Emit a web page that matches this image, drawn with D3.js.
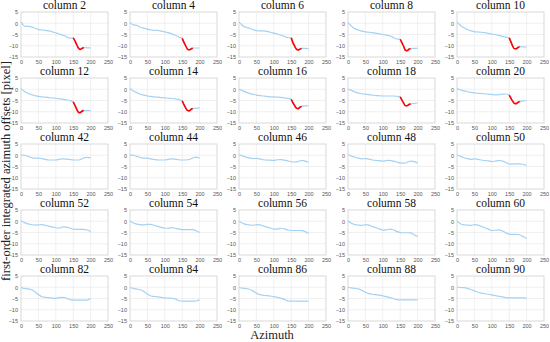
<!DOCTYPE html>
<html><head><meta charset="utf-8">
<script src="https://cdn.jsdelivr.net/npm/d3@7"></script>
<style>body{margin:0;background:#fff}svg{display:block}</style>
</head><body>
<svg id="c" width="550" height="342"></svg>
<script>
// panel titles
const columns = [2,4,6,8,10,12,14,16,18,20,42,44,46,48,50,52,54,56,58,60,82,84,86,88,90];
const xTicks = [0,50,100,150,200,250];
const yTicks = [5,0,-5,-10,-15];
// azimuth samples
const azA = [0,5,10,20,30,40,50,60,70,80,90,100,110,120,130,140,150,155,160,165,170,175,180,190,200];
const azB = [0,10,20,30,40,50,60,70,80,90,100,110,120,130,140,150,160,170,180,190,200];
// red segment range (rows 1-2)
const redRange = [150,180];
// offsets, rows 1-2 (sampled at azA)
const col2  = [0.5,-0.5,-1.3,-1.4,-1.6,-2.2,-2.8,-3.0,-3.2,-3.4,-3.8,-4.3,-4.8,-5.3,-5.9,-6.6,-6.5,-7.8,-9.5,-11.0,-11.6,-11.2,-10.8,-10.9,-10.9];
const col4  = [0.3,-0.3,-0.7,-1.0,-1.8,-2.2,-2.6,-3.0,-3.1,-3.2,-3.5,-3.8,-4.2,-4.7,-5.3,-6.1,-6.7,-8.5,-10.0,-11.5,-11.8,-11.5,-11.0,-11.0,-11.0];
const col6  = [0.5,-0.2,-1.0,-1.8,-2.2,-2.8,-3.3,-3.4,-3.4,-3.6,-4.0,-4.4,-4.8,-5.3,-5.8,-6.4,-6.5,-8.6,-10.2,-11.5,-11.9,-11.5,-11.2,-11.2,-11.3];
const col8  = [0.3,-0.5,-1.3,-2.5,-3.0,-3.5,-3.8,-4.0,-4.2,-4.4,-4.7,-5.0,-5.3,-5.6,-6.3,-7.0,-7.1,-8.7,-10.3,-12.0,-12.2,-11.5,-11.3,-11.2,-11.2];
const col10 = [0.5,-0.3,-1.0,-2.0,-2.8,-3.4,-3.8,-3.9,-4.0,-4.2,-4.5,-4.8,-5.0,-5.4,-5.8,-6.2,-6.5,-8.3,-10.2,-11.3,-11.3,-10.8,-10.4,-10.5,-10.6];
const col12 = [0.3,-0.4,-1.0,-1.8,-2.4,-2.8,-3.2,-3.4,-3.5,-3.7,-3.9,-4.0,-4.2,-4.4,-4.7,-5.0,-5.6,-7.2,-8.8,-10.2,-10.4,-9.8,-9.5,-9.5,-9.5];
const col14 = [0.3,-0.3,-0.8,-1.5,-2.2,-2.6,-3.0,-3.2,-3.4,-3.5,-3.7,-3.8,-4.0,-4.1,-4.3,-4.6,-5.1,-6.8,-8.3,-9.4,-9.6,-9.0,-8.6,-8.5,-8.3];
const col16 = [0.0,-0.3,-0.6,-1.3,-1.8,-2.2,-2.6,-2.8,-3.0,-3.2,-3.4,-3.4,-3.5,-3.6,-3.8,-4.1,-4.5,-6.0,-7.3,-8.4,-8.6,-8.0,-7.6,-7.4,-7.3];
const col18 = [0.1,-0.2,-0.5,-1.2,-1.7,-2.0,-2.2,-2.4,-2.6,-2.8,-2.9,-3.0,-3.0,-3.0,-3.0,-3.1,-3.4,-4.8,-6.2,-7.3,-7.3,-6.8,-6.5,-6.3,-6.0];
const col20 = [0.3,0.0,-0.3,-0.7,-1.1,-1.4,-1.6,-1.8,-1.9,-2.0,-2.2,-2.3,-2.5,-2.4,-2.2,-2.1,-2.6,-4.0,-5.3,-6.3,-6.4,-5.8,-5.4,-5.2,-5.0];
// offsets, rows 3-5 (sampled at azB)
const col42 = [0.1,0.0,-0.5,-1.0,-1.3,-1.3,-1.5,-1.8,-2.1,-2.1,-2.1,-1.8,-1.6,-1.7,-1.9,-2.1,-2.1,-2.0,-1.2,-0.9,-1.2];
const col44 = [0.2,0.0,-0.5,-1.0,-1.3,-1.3,-1.6,-1.9,-2.1,-2.1,-2.1,-1.8,-1.6,-1.8,-2.0,-2.1,-2.1,-1.9,-1.2,-0.8,-1.3];
const col46 = [0.2,-0.3,-0.8,-1.2,-1.5,-1.4,-1.6,-2.0,-2.2,-2.2,-2.3,-2.0,-1.9,-2.2,-2.5,-2.9,-3.0,-2.8,-2.3,-2.6,-3.1];
const col48 = [0.2,-0.4,-0.9,-1.3,-1.6,-1.5,-1.7,-2.1,-2.3,-2.4,-2.6,-2.4,-2.3,-2.6,-3.0,-3.4,-3.5,-3.2,-2.6,-2.8,-3.5];
const col50 = [0.2,-0.5,-1.1,-1.5,-1.8,-1.6,-1.8,-2.1,-2.4,-2.5,-2.8,-2.6,-2.3,-2.6,-3.1,-3.8,-3.9,-3.8,-3.8,-4.0,-4.5];
const col52 = [0.2,-0.6,-1.2,-1.5,-1.7,-1.6,-1.5,-1.8,-2.2,-2.5,-2.9,-3.0,-2.5,-2.6,-3.0,-3.5,-3.6,-3.6,-3.6,-3.9,-4.6];
const col54 = [0.1,-0.8,-1.3,-1.5,-1.6,-1.4,-1.4,-1.9,-2.3,-2.7,-3.1,-3.1,-2.8,-3.1,-3.5,-3.7,-3.7,-3.7,-3.7,-4.2,-5.0];
const col56 = [0.0,-0.9,-1.4,-1.6,-1.8,-1.5,-1.6,-2.1,-2.6,-3.0,-3.5,-3.5,-3.1,-3.4,-3.9,-4.1,-4.1,-4.1,-4.2,-4.6,-5.4];
const col58 = [0.1,-0.9,-1.5,-1.7,-1.8,-1.5,-1.7,-2.3,-2.9,-3.4,-3.9,-3.8,-3.5,-3.8,-4.5,-5.0,-5.1,-5.1,-5.2,-6.0,-6.8];
const col60 = [0.1,-1.1,-1.6,-1.7,-1.8,-1.5,-1.7,-2.3,-2.9,-3.5,-4.1,-4.0,-3.8,-4.3,-5.1,-5.7,-5.8,-5.8,-6.0,-6.8,-7.6];
const col82 = [-0.2,-0.5,-0.7,-1.1,-2.0,-3.2,-4.2,-4.5,-4.6,-4.8,-4.9,-4.6,-4.5,-4.8,-5.5,-5.7,-5.7,-5.7,-5.7,-5.7,-4.9];
const col84 = [-0.1,-0.5,-0.8,-1.1,-1.9,-3.0,-3.9,-4.1,-4.3,-4.5,-4.7,-4.8,-4.9,-5.2,-6.0,-6.2,-6.2,-6.2,-6.2,-6.1,-5.6];
const col86 = [-0.1,-0.4,-0.6,-0.9,-1.6,-2.6,-3.3,-3.6,-3.7,-3.9,-4.2,-4.5,-4.8,-5.4,-6.1,-6.2,-6.2,-6.2,-6.2,-6.2,-6.2];
const col88 = [0.0,-0.3,-0.5,-0.7,-1.4,-2.2,-2.8,-3.1,-3.3,-3.5,-3.8,-4.2,-4.6,-5.0,-5.5,-5.6,-5.6,-5.6,-5.6,-5.6,-5.6];
const col90 = [0.0,-0.1,-0.2,-0.5,-1.0,-1.6,-2.2,-2.6,-2.9,-3.1,-3.4,-3.7,-4.0,-4.3,-4.6,-4.7,-4.7,-4.7,-4.7,-4.7,-4.8];

const series = [col2,col4,col6,col8,col10,col12,col14,col16,col18,col20,
  col42,col44,col46,col48,col50,col52,col54,col56,col58,col60,
  col82,col84,col86,col88,col90];

const SERIF = "'Liberation Serif', 'Times New Roman', serif";
const SANS = "'Liberation Sans', Arial, sans-serif";
const svg = d3.select("#c");
const W = 87, H = 45;
const left0 = 21, dx = 109, top0 = 12, dy = 66;

columns.forEach((c, i) => {
  const r = Math.floor(i / 5), k = i % 5;
  const px = left0 + k * dx, py = top0 + r * dy;
  const g = svg.append("g").attr("transform", `translate(${px},${py})`);
  const x = d3.scaleLinear().domain([0, 250]).range([0, W]);
  const y = d3.scaleLinear().domain([-15, 5]).range([H, 0]);
  // grid
  g.append("g").selectAll("line").data(xTicks.slice(1, -1)).join("line")
    .attr("x1", d => x(d)).attr("x2", d => x(d)).attr("y1", 0).attr("y2", H)
    .attr("stroke", "#e6e6e6").attr("stroke-width", 0.6);
  g.append("g").selectAll("line").data(yTicks.slice(1, -1)).join("line")
    .attr("y1", d => y(d)).attr("y2", d => y(d)).attr("x1", 0).attr("x2", W)
    .attr("stroke", "#e6e6e6").attr("stroke-width", 0.6);
  // axes
  const ax = g.append("g").attr("transform", `translate(0,${H})`)
    .call(d3.axisBottom(x).tickValues(xTicks).tickSize(0).tickPadding(3));
  const ay = g.append("g")
    .call(d3.axisLeft(y).tickValues(yTicks).tickSize(0).tickPadding(3));
  [ax, ay].forEach(a => {
    a.select(".domain").remove();
    a.selectAll("text").style("font-family", SANS)
      .attr("font-size", 5.5).attr("fill", "#555");
  });
  g.append("rect").attr("x", 0).attr("y", 0).attr("width", W).attr("height", H)
    .attr("fill", "none").attr("stroke", "#cfcfcf").attr("stroke-width", 0.8);
  // data
  const vals = series[i];
  const az = r < 2 ? azA : azB;
  const pts = az.map((a, j) => [a, vals[j]]);
  const line = d3.line().x(d => x(d[0])).y(d => y(d[1])).curve(d3.curveMonotoneX);
  g.append("path").attr("d", line(pts)).attr("fill", "none")
    .attr("stroke", "#a6d2f2").attr("stroke-width", 1.2);
  if (r < 2) {
    const red = pts.filter(p => p[0] >= redRange[0] && p[0] <= redRange[1]);
    g.append("path").attr("d", line(red)).attr("fill", "none")
      .attr("stroke", "#ff0000").attr("stroke-width", 1.6);
  }
  g.append("text").attr("x", W / 2).attr("y", -3).attr("text-anchor", "middle")
    .style("font-family", SERIF)
    .attr("font-size", 11.5).attr("fill", "#111").text("column " + c);
});

svg.append("text").attr("x", 272).attr("y", 339).attr("text-anchor", "middle")
  .style("font-family", SERIF)
  .attr("font-size", 12.5).attr("fill", "#222").text("Azimuth");
svg.append("text").attr("transform", "translate(10,171) rotate(-90)")
  .attr("text-anchor", "middle")
  .style("font-family", SERIF)
  .attr("font-size", 12.5).attr("fill", "#222")
  .text("first-order integrated azimuth offsets [pixel]");
</script>
</body></html>
